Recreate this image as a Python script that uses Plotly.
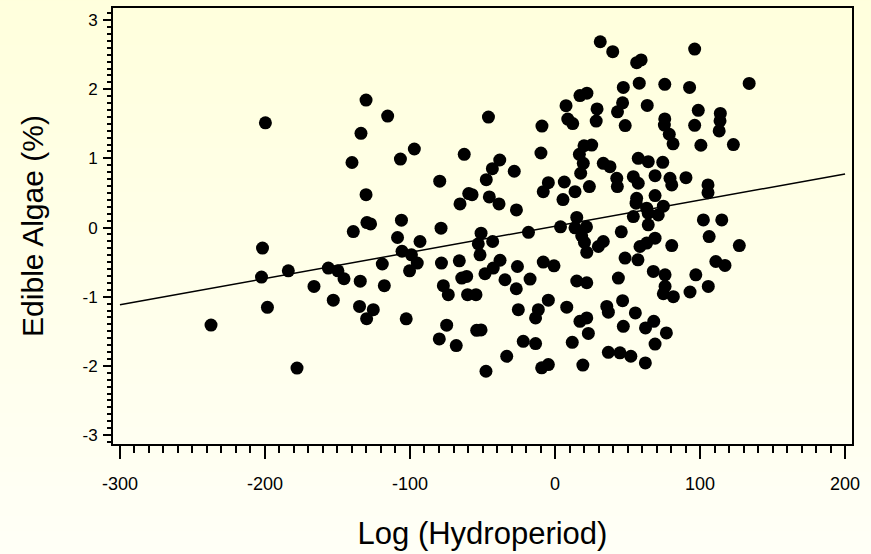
import plotly.graph_objects as go

# Data (Log Hydroperiod vs Edible Algae %)
hydro = [
    -237.2, -199.7, -201.7, -202.4, -198.3, -183.9, -177.9, -166.2, -156.3, -152.9,
    -149.7, -145.5, -139.1, -134.3, -134.8, -129.9, -125.3, -129.7, -127.2, -119.1,
    -117.7, -108.6, -105.5, -105.9, -130.3, -115.4, -133.8, -140.0, -130.3, -106.6,
    -97.0, -79.5, -62.6, -45.9, -38.1, -43.2, -47.4, -28.1, -57.2, -59.5,
    -65.5, -45.3, -38.6, -26.6, -9.0, -9.7, -4.6, -8.1, 6.4, 13.8,
    5.5, 7.6, 8.8, 12.2, 17.2, 22.0, 20.0, 16.8, 19.5, 17.7,
    23.7, -99.0, -95.0, -100.3, -93.1, -78.6, -51.0, -52.9, -51.7, -43.0,
    -18.3, 3.8, 15.0, 13.8, 18.4, 21.9, -78.3, -66.0, -77.0, -73.6,
    -64.3, -60.9, -60.3, -54.5, -48.3, -42.6, -37.9, -34.5, -25.9, -26.7,
    -17.2, -8.1, -0.7, 15.0, 21.9, -25.3, -11.5, -4.6, -13.4, 8.1,
    17.2, 21.9, -74.7, -79.8, -68.1, -54.0, -51.0, -21.9, -13.4, -33.3,
    -47.6, -9.2, -4.6, 11.9, 19.2, 23.0, -102.6,
    31.2, 39.8, 56.3, 59.4, 96.3, 133.9, 47.1, 58.1, 75.7, 92.8,
    29.0, 28.4, 46.6, 43.1, 63.6, 48.4, 75.7, 75.4, 78.8, 81.4,
    98.8, 96.3, 100.6, 114.0, 113.8, 113.2, 123.0, 25.3, 33.3, 37.9,
    57.4, 64.3, 74.3, 69.0, 54.0, 57.4, 42.6, 43.0, 79.3, 80.5,
    90.3, 105.5, 105.5, 69.0, 56.3, 55.9, 74.7, 63.2, 54.0, 64.3,
    64.3, 71.2, 69.0, 63.2, 58.6, 80.5, 102.3, 115.0, 106.3, 127.1,
    110.9, 117.2, 97.1, 105.7, 93.1, 75.9, 67.8, 75.9, 81.6, 74.7,
    48.3, 57.2, 45.7, 33.3, 29.9, 20.3, 21.7, 43.7, 35.7, 36.8,
    46.6, 55.4, 47.1, 62.4, 68.1, 76.8, 69.0, 36.8, 44.8, 52.3,
    62.3,
]
algae = [
    -1.41, 1.515, -0.297, -0.716, -1.154, -0.625, -2.032, -0.851, -0.586, -1.05,
    -0.625, -0.74, -0.058, -0.776, -1.14, -1.317, -1.188, 0.072, 0.053, -0.527,
    -0.841, -0.144, -0.343, 0.107, 1.843, 1.612, 1.362, 0.941, 0.476, 0.991,
    1.136, 0.67, 1.059, 1.597, 0.977, 0.851, 0.693, 0.814, 0.476, 0.491,
    0.342, 0.443, 0.342, 0.255, 1.468, 1.078, 0.649, 0.519, 0.659, 0.519,
    0.404, 1.763, 1.569, 1.504, 1.908, 1.944, 1.183, 1.059, 0.929, 0.785,
    0.592, -0.394, -0.514, -0.625, -0.202, -0.009, -0.081, -0.235, -0.394, -0.202,
    -0.069, 0.01, 0.147, -0.004, -0.12, -0.358, -0.514, -0.481, -0.841, -0.971,
    -0.73, -0.707, -0.971, -0.971, -0.668, -0.586, -0.473, -0.755, -0.563, -0.885,
    -0.745, -0.499, -0.553, -0.773, -0.798, -1.188, -1.188, -1.05, -1.307, -1.152,
    -1.356, -1.307, -1.411, -1.61, -1.707, -1.486, -1.481, -1.645, -1.678, -1.861,
    -2.078, -2.029, -1.981, -1.659, -1.988, -1.531, -1.32,
    2.687, 2.543, 2.384, 2.424, 2.581, 2.084, 2.026, 2.088, 2.071, 2.026,
    1.716, 1.54, 1.804, 1.674, 1.766, 1.475, 1.571, 1.482, 1.349, 1.211,
    1.696, 1.479, 1.19, 1.651, 1.544, 1.398, 1.2, 1.193, 0.929, 0.88,
    1.001, 0.952, 0.944, 0.75, 0.736, 0.641, 0.713, 0.592, 0.713, 0.616,
    0.722, 0.616, 0.505, 0.462, 0.424, 0.352, 0.309, 0.28, 0.159, 0.208,
    0.039, 0.183, -0.153, -0.225, -0.274, -0.26, 0.111, 0.111, -0.13, -0.26,
    -0.491, -0.548, -0.683, -0.851, -0.932, -0.683, -0.635, -0.851, -1.0, -0.957,
    -0.442, -0.466, -0.062, -0.202, -0.274, -0.214, 0.01, -0.73, -1.14, -1.224,
    -1.058, -1.235, -1.429, -1.452, -1.356, -1.524, -1.685, -1.804, -1.812, -1.861,
    -1.957,
]

# Fitted regression line endpoints
fit_x = [-300, 200]
fit_y = [-1.115, 0.775]

x_tickvals = [-300, -200, -100, 0, 100, 200]
x_ticktext = ["-300", "-200", "-100", "0", "100", "200"]
y_tickvals = [-3, -2, -1, 0, 1, 2, 3]
y_ticktext = ["-3", "-2", "-1", "0", "1", "2", "3"]

fig = go.Figure()
fig.add_trace(go.Scatter(
    x=fit_x, y=fit_y, mode="lines",
    line=dict(color="black", width=1.5), hoverinfo="skip", showlegend=False,
))
fig.add_trace(go.Scatter(
    x=hydro, y=algae, mode="markers",
    marker=dict(color="black", size=13, line=dict(width=0)), showlegend=False,
))

# Soft vertical gradient background (light yellow to near white)
shapes = []
n = 40
y_lo, y_hi = -0.3, 1.05
top_rgb = (255, 255, 220)
bot_rgb = (255, 255, 247)
for i in range(n):
    t = i / (n - 1)
    r = round(bot_rgb[0] + (top_rgb[0] - bot_rgb[0]) * t)
    g = round(bot_rgb[1] + (top_rgb[1] - bot_rgb[1]) * t)
    b = round(bot_rgb[2] + (top_rgb[2] - bot_rgb[2]) * t)
    y0 = y_lo + (y_hi - y_lo) * i / n
    y1 = y_lo + (y_hi - y_lo) * (i + 1) / n + 0.002
    shapes.append(dict(
        type="rect", xref="paper", yref="paper", x0=-0.25, x1=1.1, y0=y0, y1=y1,
        fillcolor=f"rgb({r},{g},{b})", line=dict(width=0), layer="below",
    ))

font_family = "Liberation Sans, Arial, sans-serif"

fig.update_layout(
    width=871, height=554,
    margin=dict(l=113, r=19, t=8, b=110),
    paper_bgcolor="rgb(255,255,235)",
    plot_bgcolor="rgba(0,0,0,0)",
    shapes=shapes,
    font=dict(family=font_family, color="black"),
    xaxis=dict(
        range=[-304.8, 204.8],
        tickmode="array", tickvals=x_tickvals, ticktext=x_ticktext,
        ticks="outside", ticklen=13, tickwidth=1.5, tickcolor="black",
        minor=dict(dtick=10, tick0=0, ticks="outside", ticklen=7, tickwidth=1.5, tickcolor="black"),
        showline=True, linecolor="black", linewidth=2, mirror=True,
        showgrid=False, zeroline=False,
        tickfont=dict(size=18, family=font_family),
        ticklabelstandoff=9,
        title=dict(text="Log (Hydroperiod)", font=dict(size=31, family=font_family), standoff=30),
        automargin=False,
    ),
    yaxis=dict(
        range=[-3.13, 3.175],
        tickmode="array", tickvals=y_tickvals, ticktext=y_ticktext,
        ticks="outside", ticklen=8, tickwidth=1.5, tickcolor="black",
        minor=dict(dtick=0.1, tick0=0, ticks="outside", ticklen=4, tickwidth=1.5, tickcolor="black"),
        showline=True, linecolor="black", linewidth=2, mirror=True,
        showgrid=False, zeroline=False,
        tickfont=dict(size=17, family=font_family),
        ticklabelstandoff=2,
        title=dict(text="Edible Algae (%)", font=dict(size=30, family=font_family), standoff=30),
        automargin=False,
    ),
)

fig.write_html(
    "out.html",
    config={"displayModeBar": False},
    post_script="document.body.style.margin='0';document.body.style.padding='0';document.body.style.overflow='hidden';",
)
